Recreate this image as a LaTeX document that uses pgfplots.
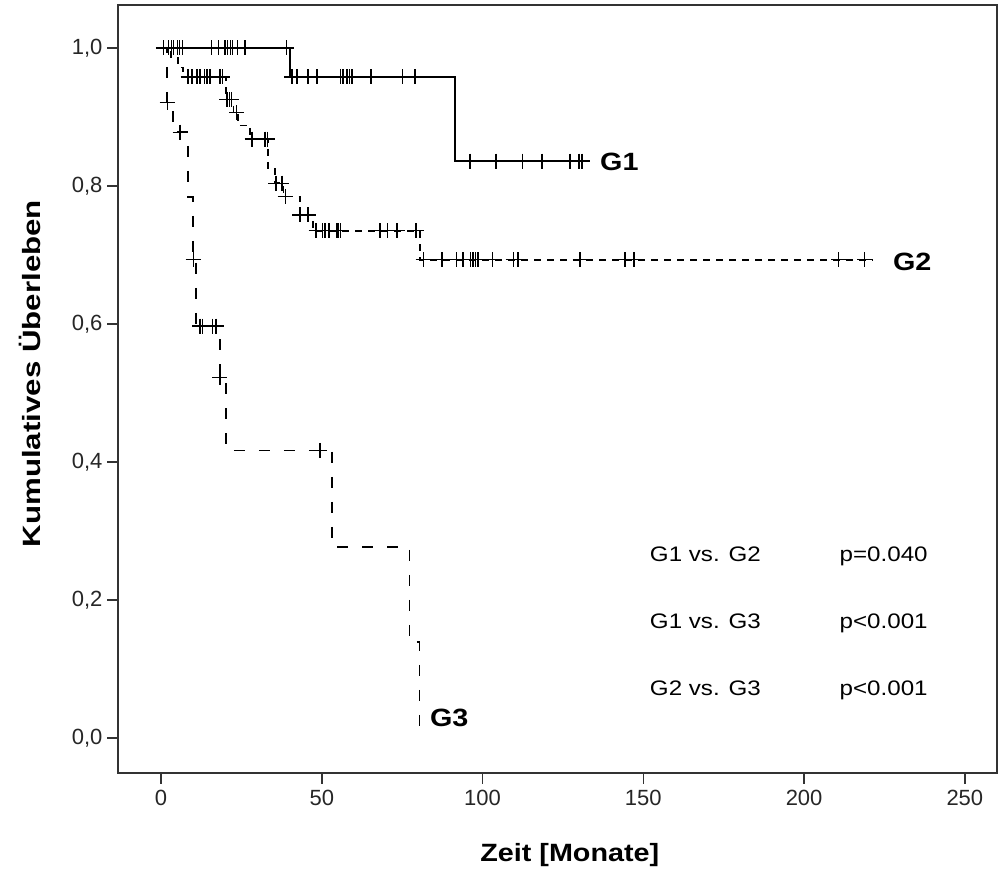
\documentclass[border=0pt]{standalone}
\usepackage{fontspec}
\setmainfont{Liberation Sans}
\usepackage{graphicx}
\usepackage{pgfplots}
\pgfplotsset{compat=1.18}
\newcommand{\sx}[1]{\scalebox{1.15}[1]{#1}}
\begin{document}
\begin{tikzpicture}
\begin{axis}[
  at={(118bp,99bp)}, anchor=south west,
  scale only axis, width=879bp, height=768bp,
  xmin=-13.4, xmax=260, ymin=-0.0507, ymax=1.0623,
  clip=false,
  axis line style={line width=1.4bp, black!80},
  xtick={0,50,100,150,200,250},
  xticklabels={0,50,100,150,200,250},
  ytick={0,0.2,0.4,0.6,0.8,1.0},
  yticklabels={{0,0},{0,2},{0,4},{0,6},{0,8},{1,0}},
  xtick pos=bottom, ytick pos=left,
  tick align=outside, major tick length=11bp,
  tick style={line width=1.5bp, black!80},
  minor tick num=0,
  x tick label style={font=\fontsize{22bp}{26bp}\selectfont, text=black!85, yshift=-3bp},
  y tick label style={font=\fontsize{22bp}{26bp}\selectfont, text=black!85, xshift=-1bp},
  xlabel={\sx{\textbf{Zeit [Monate]}}},
  ylabel={\scalebox{1.25}[1]{\textbf{Kumulatives Überleben}}},
  xlabel style={at={(rel axis cs:0.514,-0.1068)}, anchor=center, font=\fontsize{25bp}{30bp}\selectfont},
  ylabel style={at={(rel axis cs:-0.1001,0.52)}, anchor=center, font=\fontsize{25bp}{30bp}\selectfont},
  km/.style={const plot, line width=1.5bp, black},
  cens/.style={only marks, mark=+, mark size=7.5bp, mark options={solid, line width=1.2bp, black}},
]
% G1 (solid)
\addplot[km] coordinates {(0,1) (40.1,0.958) (91.4,0.836) (133.4,0.836)};
\addplot[cens] coordinates {
(0.7,1)(2.3,1)(3.3,1)(3.8,1)(5.1,1)(5.7,1)(6.7,1)
(15.8,1)(17.8,1)(19.9,1)(20.6,1)(21.5,1)(22.3,1)(23.7,1)(26.1,1)(38.9,1)
(40.7,0.958)(42.3,0.958)(45.7,0.958)(48.5,0.958)(55.7,0.958)(56.6,0.958)(57.8,0.958)(58.5,0.958)(59.4,0.958)(65.3,0.958)(75.2,0.958)(79.0,0.958)
(96.1,0.836)(104.2,0.836)(112.3,0.836)(118.5,0.836)(127.2,0.836)(130.0,0.836)(130.9,0.836)};
% G2 (short dashes)
\addplot[km, dash pattern=on 7bp off 6bp] coordinates {(0,1)(3.1,0.986)(5.3,0.972)(6.8,0.958)(20.2,0.925)(22.5,0.906)(23.9,0.888)(27.7,0.868)(33.3,0.826)(35.4,0.804)(38.0,0.785)(43.2,0.758)(47.2,0.735)(80.5,0.693)(221.4,0.693)};
\addplot[cens] coordinates {
(8.4,0.958)(9.6,0.958)(11.2,0.958)(12.1,0.958)(13.4,0.958)(14.3,0.958)(15.2,0.958)(18.3,0.958)(19.0,0.958)
(20.5,0.925)(21.2,0.925)(22.0,0.925)
(23.5,0.906)
(28.3,0.868)(32.3,0.868)(33.0,0.868)
(35.6,0.804)(36.0,0.804)(37.6,0.804)
(38.6,0.785)
(43.2,0.758)(45.7,0.758)
(48.2,0.735)(50.1,0.735)(51.0,0.735)(52.2,0.735)(54.7,0.735)(55.0,0.735)(55.7,0.735)(68.1,0.735)(70.3,0.735)(73.4,0.735)(79.3,0.735)
(81.5,0.693)(87.4,0.693)(92.0,0.693)(93.9,0.693)(96.2,0.693)(97.0,0.693)(97.8,0.693)(98.6,0.693)(103.2,0.693)(109.5,0.693)(111.0,0.693)(130.3,0.693)(144.3,0.693)(147.1,0.693)(210.8,0.693)(218.9,0.693)};
% G3 (long dashes)
\addplot[km, dash pattern=on 11bp off 14bp] coordinates {(0,1)(1.9,0.921)(3.7,0.878)(8.4,0.784)(10.0,0.693)(10.9,0.597)(18.3,0.522)(20.2,0.417)(53.2,0.277)(77.2,0.139)(80.3,0)};
\addplot[cens] coordinates {(1.9,0.921)(5.9,0.878)(10.0,0.693)(12.1,0.597)(13.0,0.597)(15.9,0.597)(17.1,0.597)(18.3,0.522)(49.4,0.417)};
% labels
\node[anchor=west, inner sep=0, font=\fontsize{25bp}{30bp}\selectfont\bfseries] at (axis cs:136.5,0.835) {\sx{G1}};
\node[anchor=west, inner sep=0, font=\fontsize{25bp}{30bp}\selectfont\bfseries] at (axis cs:227.6,0.69) {\sx{G2}};
\node[anchor=west, inner sep=0, font=\fontsize{25bp}{30bp}\selectfont\bfseries] at (axis cs:83.6,0.029) {\sx{G3}};
\node[anchor=base west, inner sep=0, font=\fontsize{21bp}{25bp}\selectfont] at (axis cs:152,0.2565) {\sx{G1 vs. G2}};
\node[anchor=base west, inner sep=0, font=\fontsize{21bp}{25bp}\selectfont] at (axis cs:211,0.2565) {\sx{p=0.040}};
\node[anchor=base west, inner sep=0, font=\fontsize{21bp}{25bp}\selectfont] at (axis cs:152,0.1594) {\sx{G1 vs. G3}};
\node[anchor=base west, inner sep=0, font=\fontsize{21bp}{25bp}\selectfont] at (axis cs:211,0.1594) {\sx{p<0.001}};
\node[anchor=base west, inner sep=0, font=\fontsize{21bp}{25bp}\selectfont] at (axis cs:152,0.0623) {\sx{G2 vs. G3}};
\node[anchor=base west, inner sep=0, font=\fontsize{21bp}{25bp}\selectfont] at (axis cs:211,0.0623) {\sx{p<0.001}};
\end{axis}
\pgfresetboundingbox
\path[use as bounding box] (0,0) rectangle (998bp,872bp);
\end{tikzpicture}
\end{document}
